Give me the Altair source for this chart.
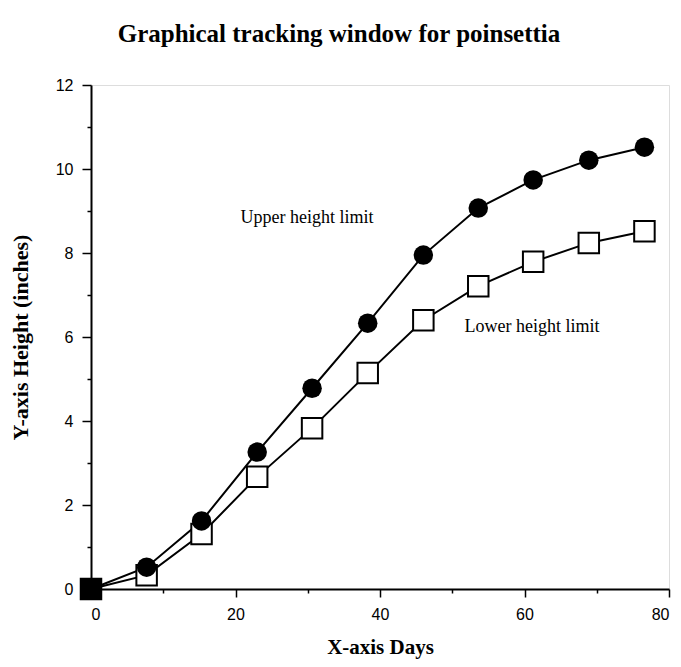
import altair as alt
import pandas as pd

days = [0, 7.7, 15.3, 23.0, 30.6, 38.3, 46.0, 53.6, 61.2, 68.9, 76.6]
upper = [0, 0.52, 1.62, 3.26, 4.78, 6.33, 7.95, 9.07, 9.74, 10.21, 10.52]
lower = [0, 0.33, 1.31, 2.67, 3.83, 5.14, 6.40, 7.21, 7.79, 8.24, 8.52]

label_text = ["Upper height limit", "Lower height limit"]
label_x = [20.7, 51.7]
label_y = [8.83, 6.24]

x_ticks = list(range(0, 81, 10))
y_ticks = list(range(0, 13, 1))

df = pd.DataFrame({"day": days, "upper": upper, "lower": lower})
df["first"] = [i == 0 for i in range(len(days))]
lab = pd.DataFrame({"text": label_text, "x": label_x, "y": label_y})

xs = alt.Scale(domain=[0, 80], nice=False, zero=False)
ys = alt.Scale(domain=[0, 12], nice=False, zero=False)

xaxis = alt.Axis(
    values=x_ticks,
    labelExpr="datum.value % 20 == 0 ? datum.label : ''",
    tickSize={"condition": {"test": "datum.value % 20 == 0", "value": 8}, "value": 4},
    tickColor="black", tickWidth=1.5, domainColor="black", domainWidth=2,
    labelFont="Liberation Sans", labelFontSize=16, labelColor="black", labelPadding=9,
    title="X-axis Days", titleFont="Liberation Serif", titleFontSize=21,
    titleFontWeight="bold", titleColor="black", titlePadding=14, grid=False,
)
yaxis = alt.Axis(
    values=y_ticks,
    labelExpr="datum.value % 2 == 0 ? datum.label : ''",
    tickSize={"condition": {"test": "datum.value % 2 == 0", "value": 9}, "value": 4},
    tickColor="black", tickWidth=1.5, domainColor="black", domainWidth=2,
    labelFont="Liberation Sans", labelFontSize=16, labelColor="black", labelPadding=9,
    title="Y-axis Height (inches)", titleFont="Liberation Serif", titleFontSize=22,
    titleFontWeight="bold", titleColor="black", titlePadding=23, grid=False,
)

base = alt.Chart(df)

line_lower = base.mark_line(color="black", strokeWidth=2).encode(
    x=alt.X("day:Q", scale=xs, axis=xaxis),
    y=alt.Y("lower:Q", scale=ys, axis=yaxis),
)
line_upper = base.mark_line(color="black", strokeWidth=2).encode(
    x=alt.X("day:Q", scale=xs),
    y=alt.Y("upper:Q", scale=ys),
)
pts_lower = base.mark_point(shape="square", filled=True, size=420, stroke="black", strokeWidth=2, opacity=1).encode(
    x=alt.X("day:Q", scale=xs),
    y=alt.Y("lower:Q", scale=ys),
    fill=alt.condition("datum.first", alt.value("black"), alt.value("white")),
)
pts_upper = base.transform_filter("!datum.first").mark_point(shape="circle", filled=True, size=380, color="black", opacity=1).encode(
    x=alt.X("day:Q", scale=xs),
    y=alt.Y("upper:Q", scale=ys),
)
labels = alt.Chart(lab).mark_text(
    align="left", baseline="middle", font="Liberation Serif", fontSize=18, color="black"
).encode(
    x=alt.X("x:Q", scale=xs),
    y=alt.Y("y:Q", scale=ys),
    text="text:N",
)

chart = alt.layer(line_lower, line_upper, pts_lower, pts_upper, labels).properties(
    width=578,
    height=504,
    padding={"left": 83, "top": 77, "right": 4, "bottom": 70},
    autosize=alt.AutoSizeParams(type="none"),
    title=alt.TitleParams(
        "Graphical tracking window for poinsettia",
        font="Liberation Serif", fontSize=25, fontWeight="bold", color="black",
        anchor="middle", dx=-41, offset=30,
    ),
).configure_view(stroke="black", strokeWidth=2).configure(background="white")

chart.save("out.html", embed_options={"renderer": "svg", "actions": False})
